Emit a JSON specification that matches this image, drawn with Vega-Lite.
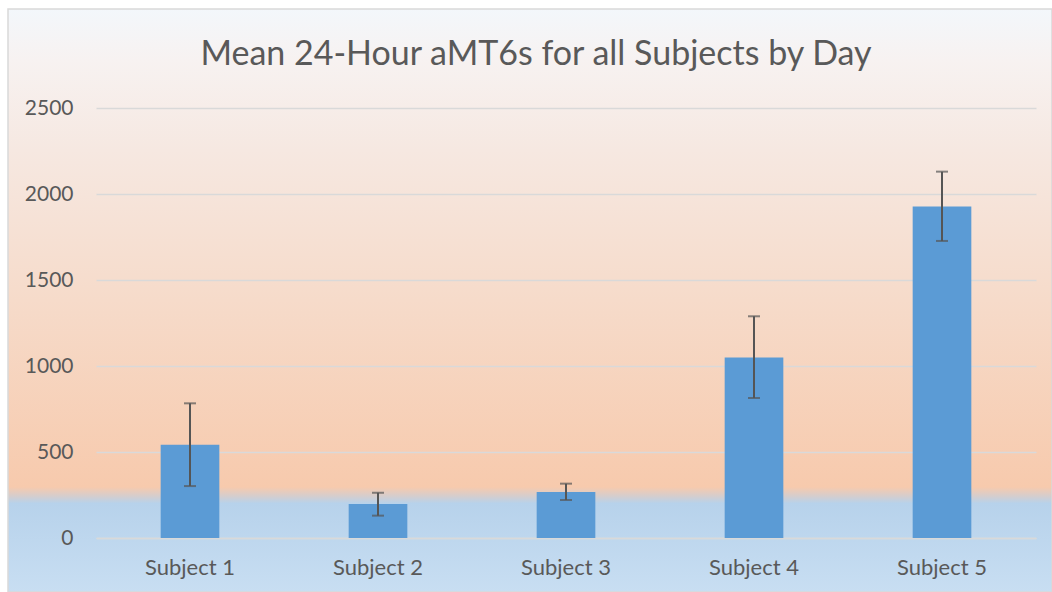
{
  "$schema": "https://vega.github.io/schema/vega-lite/v6.json",
  "width": 1044,
  "height": 583,
  "autosize": {"type": "none"},
  "padding": {"left": 8, "top": 9, "right": 0, "bottom": 0},
  "background": "white",
  "title": {
    "text": "Mean 24-Hour aMT6s for all Subjects by Day",
    "font": "Lato",
    "fontSize": 34,
    "fontWeight": "normal",
    "color": "#595959",
    "anchor": "middle",
    "frame": "group",
    "offset": 0,
    "baseline": "alphabetic",
    "dy": 90,
    "dx": 6
  },
  "config": {
    "font": "Lato",
    "view": {
      "stroke": "#d9d9d9",
      "strokeWidth": 1.5,
      "fill": {
        "gradient": "linear",
        "x1": 0, "y1": 0, "x2": 0, "y2": 1,
        "stops": [
          {"offset": 0, "color": "#f3f7fb"},
          {"offset": 0.087, "color": "#f7f2f1"},
          {"offset": 0.242, "color": "#f6e8e1"},
          {"offset": 0.499, "color": "#f6dbca"},
          {"offset": 0.82, "color": "#f7caad"},
          {"offset": 0.835, "color": "#d6cdcc"},
          {"offset": 0.848, "color": "#b7d2eb"},
          {"offset": 1, "color": "#c8def2"}
        ]
      }
    }
  },
  "data": {
    "values": [
      {"subject": "Subject 1", "mean": 542, "lo": 302, "hi": 783},
      {"subject": "Subject 2", "mean": 197, "lo": 130, "hi": 263},
      {"subject": "Subject 3", "mean": 268, "lo": 221, "hi": 316},
      {"subject": "Subject 4", "mean": 1050, "lo": 814, "hi": 1289},
      {"subject": "Subject 5", "mean": 1928, "lo": 1727, "hi": 2130}
    ]
  },
  "encoding": {
    "x": {
      "field": "subject",
      "type": "nominal",
      "sort": null,
      "scale": {"range": [88, 1028], "paddingInner": 0.688, "paddingOuter": 0.344},
      "axis": {
        "title": null,
        "orient": "bottom",
        "offset": -54,
        "domainColor": "#d9d9d9",
        "domainWidth": 1.5,
        "ticks": false,
        "grid": false,
        "labelPadding": 19,
        "labelFont": "Lato",
        "labelFontSize": 22,
        "labelColor": "#595959",
        "labelAngle": 0
      }
    }
  },
  "layer": [
    {
      "mark": {"type": "bar", "color": "#5b9bd5"},
      "encoding": {
        "y": {
          "field": "mean",
          "type": "quantitative",
          "scale": {"domain": [0, 2500], "range": [529, 99], "nice": false},
          "axis": {
            "title": null,
            "offset": -88,
            "domain": false,
            "ticks": false,
            "labelPadding": 23,
            "format": "d",
            "values": [0, 500, 1000, 1500, 2000, 2500],
            "gridColor": "#d9d9d9",
            "gridWidth": 1.5,
            "labelFont": "Lato",
            "labelFontSize": 21,
            "labelColor": "#595959"
          }
        }
      }
    },
    {
      "mark": {"type": "rule", "color": "#555555", "strokeWidth": 2},
      "encoding": {
        "y": {"field": "lo", "type": "quantitative"},
        "y2": {"field": "hi"}
      }
    },
    {
      "mark": {"type": "tick", "color": "#555555", "thickness": 2, "size": 12},
      "encoding": {"y": {"field": "lo", "type": "quantitative"}}
    },
    {
      "mark": {"type": "tick", "color": "#555555", "thickness": 2, "size": 12},
      "encoding": {"y": {"field": "hi", "type": "quantitative"}}
    }
  ]
}
